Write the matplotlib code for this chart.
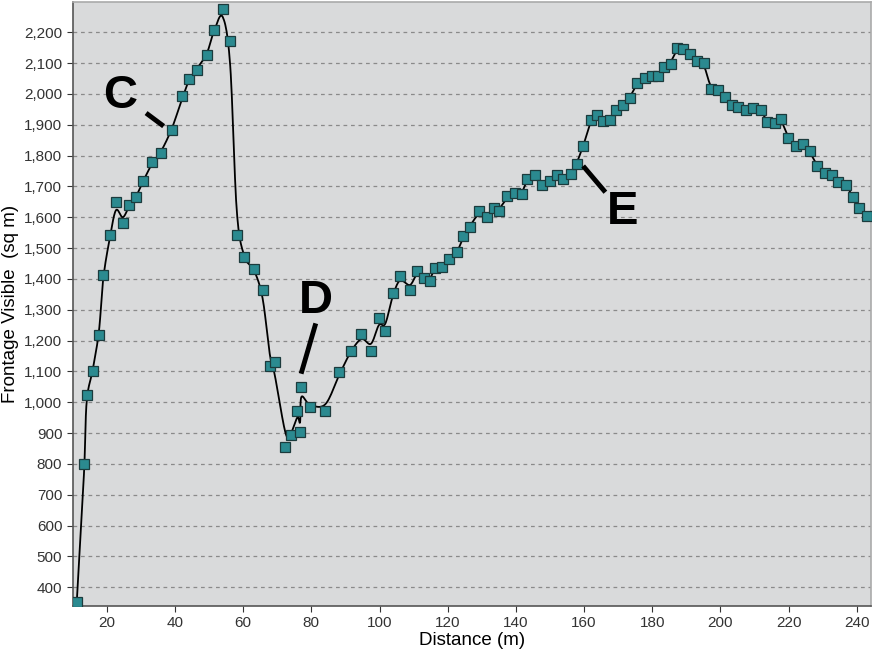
import numpy as np
import matplotlib
matplotlib.use("Agg")
import matplotlib.pyplot as plt
from matplotlib.ticker import FuncFormatter

# distancia (m) e frontage visivel (m2)
distance = [11.2, 13.3, 14.1, 15.9, 17.7, 19.0, 21.0, 22.7, 24.7, 26.5,
            28.6, 30.7, 33.3, 36.0, 39.1, 42.1, 44.2, 46.4, 49.3, 51.5,
            54.0, 56.2, 58.1, 60.3, 63.2, 65.7, 67.8, 69.3, 72.4, 74.0,
            75.9, 76.7, 77.1, 79.6, 84.1, 88.2, 91.6, 94.7, 97.5, 99.8,
            101.7, 103.9, 106.0, 108.9, 110.9, 113.0, 114.7, 116.2, 118.4, 120.4,
            122.8, 124.6, 126.5, 129.1, 131.6, 133.6, 135.1, 137.5, 139.8, 141.8,
            143.4, 145.6, 147.7, 150.0, 152.0, 153.9, 156.1, 157.8, 159.8, 161.9,
            163.9, 165.6, 167.5, 169.4, 171.5, 173.5, 175.6, 177.9, 179.8, 181.8,
            183.4, 185.4, 187.3, 189.1, 191.0, 193.0, 195.2, 197.1, 199.4, 201.3,
            203.3, 205.2, 207.4, 209.6, 211.8, 213.8, 215.9, 217.9, 219.9, 222.3,
            224.1, 226.2, 228.4, 230.6, 232.6, 234.5, 236.8, 238.9, 240.7, 242.9]
frontage = [353, 800, 1024, 1100, 1219, 1414, 1542, 1649, 1581, 1638,
            1664, 1716, 1778, 1809, 1883, 1992, 2049, 2079, 2125, 2206,
            2276, 2171, 1542, 1470, 1432, 1364, 1118, 1130, 854, 894,
            973, 903, 1049, 984, 973, 1097, 1165, 1222, 1165, 1272,
            1230, 1354, 1410, 1364, 1424, 1404, 1393, 1435, 1439, 1464,
            1486, 1538, 1568, 1619, 1601, 1630, 1619, 1668, 1679, 1676,
            1724, 1738, 1706, 1716, 1738, 1724, 1741, 1771, 1830, 1914,
            1933, 1912, 1916, 1947, 1965, 1988, 2036, 2052, 2059, 2059,
            2088, 2098, 2149, 2146, 2128, 2106, 2101, 2016, 2012, 1990,
            1965, 1958, 1947, 1955, 1947, 1908, 1906, 1920, 1857, 1830,
            1836, 1814, 1765, 1744, 1738, 1713, 1706, 1666, 1630, 1603]

x_ticks = list(range(20, 241, 20))
y_ticks = list(range(400, 2201, 100))


def catmull_rom(x, y, n=12):
    # curva suave passando pelos pontos (levemente suavizados)
    x = np.asarray(x, float)
    y = np.asarray(y, float)
    ys = y.copy()
    ys[1:-1] = 0.15 * y[:-2] + 0.7 * y[1:-1] + 0.15 * y[2:]
    px = np.concatenate([[2 * x[0] - x[1]], x, [2 * x[-1] - x[-2]]])
    py = np.concatenate([[2 * ys[0] - ys[1]], ys, [2 * ys[-1] - ys[-2]]])
    cx, cy = [], []
    t = np.linspace(0, 1, n, endpoint=False)
    for i in range(1, len(px) - 2):
        for p, out in ((px, cx), (py, cy)):
            p0, p1, p2, p3 = p[i - 1], p[i], p[i + 1], p[i + 2]
            out.extend(0.5 * (2 * p1 + (-p0 + p2) * t
                              + (2 * p0 - 5 * p1 + 4 * p2 - p3) * t ** 2
                              + (-p0 + 3 * p1 - 3 * p2 + p3) * t ** 3))
    cx.append(x[-1])
    cy.append(ys[-1])
    return cx, cy


plt.rcParams['font.family'] = ['Liberation Sans', 'DejaVu Sans']

fig = plt.figure(figsize=(8.79, 6.58), dpi=100)
ax = fig.add_axes([0.0827, 0.079, 0.9083, 0.918])
ax.set_facecolor("#d9dadb")

line_x, line_y = catmull_rom(distance, frontage)
ax.plot(line_x, line_y, color="black", lw=1.3, zorder=3)
ax.plot(distance, frontage, ls="none", marker="s", markersize=6.5,
        markerfacecolor="#2b8a90", markeredgecolor="#1c3b3d",
        markeredgewidth=0.9, zorder=4)

ax.set_xlim(10, 244.2)
ax.set_ylim(339, 2298)
ax.set_xticks(x_ticks)
ax.set_yticks(y_ticks)
ax.yaxis.set_major_formatter(FuncFormatter(lambda v, p: f"{int(v):,}"))
ax.grid(axis="y", ls=(0, (3, 3)), color="#8a8a8a", lw=0.9)
ax.set_axisbelow(True)

ax.tick_params(axis="both", labelsize=11, colors="#333333", length=4,
               direction="out")
for s in ("left", "bottom"):
    ax.spines[s].set_color("#555555")
    ax.spines[s].set_linewidth(1.2)
for s in ("top", "right"):
    ax.spines[s].set_color("#aaaaaa")
    ax.spines[s].set_linewidth(1.2)

ax.set_xlabel("Distance (m)", fontsize=13.5, labelpad=1)
ax.set_ylabel("Frontage Visible  (sq m)", fontsize=13.5, labelpad=4)

# letras C, D, E com os tracos
letter = dict(fontsize=34, fontweight="bold", ha="center", va="center",
              zorder=5)
ax.text(24.0, 1994, "C", **letter)
ax.plot([32.1, 36.1], [1933, 1900], color="black", lw=3.5, zorder=5)
ax.text(81.4, 1327, "D", **letter)
ax.plot([81.1, 77.2], [1248, 1100], color="black", lw=3.5, zorder=5)
ax.text(171.4, 1618, "E", **letter)
ax.plot([160.2, 165.8], [1760, 1687], color="black", lw=3.5, zorder=5)

fig.savefig("out.png", dpi=100)
